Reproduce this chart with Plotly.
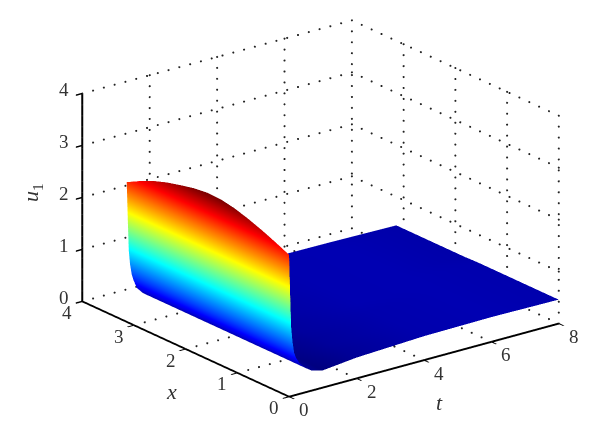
import plotly.graph_objects as go

# Values
t_values = [0, .03, .06, .1, .15, .2, .3, .48, .68, 1, 2, 4, 6, 8]
x_values = [0, .26, .52, .79, 1.05, 1.31, 1.57, 1.83, 2.09, 2.36, 2.62, 2.88, 3.14]
u_rows = [
    [2.73, 2.00, 1.34, 1.05, .82, .72, .60, .47, .38, .33, .40, .46, .475, .46],
    [2.85, 2.04, 1.37, 1.07, .83, .73, .60, .47, .39, .34, .40, .46, .475, .46],
    [2.96, 2.09, 1.39, 1.08, .84, .73, .60, .47, .39, .35, .41, .46, .475, .46],
    [3.06, 2.12, 1.40, 1.09, .85, .74, .60, .47, .39, .36, .41, .46, .475, .46],
    [3.14, 2.16, 1.41, 1.10, .86, .75, .61, .47, .40, .37, .42, .46, .475, .46],
    [3.19, 2.18, 1.42, 1.10, .86, .75, .61, .47, .40, .37, .42, .47, .475, .46],
    [3.20, 2.19, 1.42, 1.10, .86, .75, .61, .47, .40, .38, .43, .47, .475, .46],
    [3.17, 2.18, 1.42, 1.10, .86, .75, .61, .47, .41, .39, .43, .47, .475, .45],
    [3.11, 2.15, 1.41, 1.10, .87, .76, .61, .47, .41, .39, .44, .47, .475, .45],
    [3.04, 2.12, 1.40, 1.09, .87, .76, .60, .47, .41, .40, .44, .47, .475, .45],
    [2.95, 2.08, 1.39, 1.09, .87, .76, .60, .47, .41, .41, .45, .47, .475, .45],
    [2.83, 2.04, 1.38, 1.09, .87, .76, .60, .47, .42, .42, .45, .47, .475, .45],
    [2.69, 1.98, 1.37, 1.08, .88, .77, .60, .47, .42, .43, .46, .48, .47, .45],
]
t_ticks = [0, 2, 4, 6, 8]
x_ticks = [0, 1, 2, 3, 4]
u_ticks = [0, 1, 2, 3, 4]

jet = [[0, "rgb(0,0,128)"], [.125, "rgb(0,0,255)"], [.375, "rgb(0,255,255)"],
       [.625, "rgb(255,255,0)"], [.875, "rgb(255,0,0)"], [1, "rgb(128,0,0)"]]
FONT = "Liberation Serif"
INK = "#333333"


def dotted(p0, p1, n):
    """Points evenly along a grid line between two axis positions."""
    return [[p0[k] + (p1[k] - p0[k]) * i / n for i in range(n + 1)] for k in range(3)]


gx, gy, gz = [], [], []


def add(p0, p1, n):
    a, b, c = dotted(p0, p1, n)
    gx.extend(a), gy.extend(b), gz.extend(c)


T, X, U = t_ticks[-1], x_ticks[-1], u_ticks[-1]
for u in u_ticks:
    add((0, X, u), (T, X, u), 25)   # wall x = max
    add((T, X, u), (T, 0, u), 21)   # wall t = max
for t in t_ticks:
    add((t, X, 0), (t, X, U), 19)
    if t:
        add((t, 0, 0), (t, X, 0), 21)
for x in x_ticks:
    add((T, x, 0), (T, x, U), 19)
    if x:
        add((0, x, 0), (T, x, 0), 25)

fig = go.Figure()
fig.add_trace(go.Surface(
    x=t_values, y=x_values, z=u_rows, colorscale=jet, cmin=.33, cmax=3.17,
    showscale=False, hoverinfo="skip",
    lighting=dict(ambient=1, diffuse=0, specular=0, roughness=1, fresnel=0),
    contours=dict(x=dict(highlight=False), y=dict(highlight=False), z=dict(highlight=False)),
))
fig.add_trace(go.Scatter3d(
    x=gx, y=gy, z=gz, mode="markers", hoverinfo="skip", showlegend=False,
    marker=dict(size=1.2, color="#222222", line=dict(width=0)),
))

axis = dict(showgrid=False, zeroline=False, showbackground=False, showspikes=False,
            showline=True, linecolor="black", linewidth=4, ticks="outside", ticklen=8,
            tickcolor="black", tickwidth=3, title=dict(text=""), showticklabels=False)

tick_font = dict(family=FONT, size=19, color=INK)
labels = []
for t in t_ticks:
    labels.append(dict(x=t, y=0, z=0, text=str(t), xshift=15, yshift=-13))
for x in x_ticks:
    labels.append(dict(x=0, y=x, z=0, text=str(x), xshift=-15, yshift=-11))
for u in u_ticks:
    labels.append(dict(x=0, y=X, z=u, text=str(u), xshift=-18, yshift=4))
for lab in labels:
    lab.update(showarrow=False, font=tick_font)

shift = (.0221, -.0340, -.0358)
view = (-.5694 * 1.9, -.7421 * 1.9, .3535 * 1.9)

fig.update_layout(
    width=600, height=443, margin=dict(l=0, r=0, t=0, b=0),
    paper_bgcolor="white", showlegend=False,
    scene=dict(
        domain=dict(x=[.0683, 1], y=[.0587, 1]),
        xaxis=dict(axis, range=[0, T], tickvals=t_ticks),
        yaxis=dict(axis, range=[0, X], tickvals=x_ticks),
        zaxis=dict(axis, range=[0, U], tickvals=u_ticks),
        aspectmode="manual", aspectratio=dict(x=1.63, y=1.63, z=1.066),
        camera=dict(
            projection=dict(type="orthographic"),
            eye=dict(x=view[0] + shift[0], y=view[1] + shift[1], z=view[2] + shift[2]),
            center=dict(x=shift[0], y=shift[1], z=shift[2]), up=dict(x=0, y=0, z=1),
        ),
        annotations=labels,
    ),
    annotations=[
        dict(text="<i>u</i><sub>1</sub>", x=24, y=443 - 185, textangle=-90),
        dict(text="<i>x</i>", x=163, y=443 - 383),
        dict(text="<i>t</i>", x=431, y=443 - 394),
    ],
)
for a in fig.layout.annotations:
    a.update(xref="paper", yref="paper", showarrow=False, xanchor="center", yanchor="middle",
             font=dict(family=FONT, size=22, color=INK))
    a.x = a.x / 600
    a.y = a.y / 443
fig.write_html("out.html")
